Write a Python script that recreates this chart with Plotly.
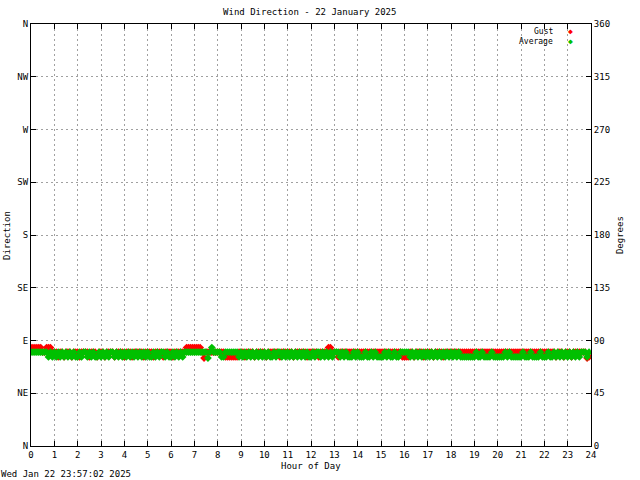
import plotly.graph_objects as go

# 5-minute readings, one row of 12 per hour (degrees)
gust = [
    [84, 84, 84, 84, 84, 84, 80, 80, 84, 84, 84, 80],
    [80, 80, 76, 80, 80, 76, 80, 80, 80, 76, 80, 80],
    [80, 76, 80, 80, 80, 80, 76, 80, 80, 80, 76, 80],
    [80, 80, 76, 80, 80, 80, 80, 76, 80, 80, 80, 80],
    [76, 80, 80, 80, 76, 80, 80, 80, 80, 80, 76, 80],
    [80, 80, 80, 76, 80, 80, 80, 80, 76, 80, 80, 80],
    [80, 76, 80, 80, 80, 80, 80, 80, 84, 84, 84, 84],
    [84, 84, 84, 84, 80, 75, 80, 80, 80, 80, 80, 80],
    [80, 80, 80, 80, 76, 76, 76, 76, 76, 76, 76, 80],
    [80, 80, 76, 80, 80, 80, 80, 76, 80, 80, 80, 80],
    [80, 76, 80, 80, 80, 80, 80, 80, 76, 80, 80, 80],
    [80, 80, 80, 76, 80, 80, 80, 80, 80, 80, 76, 80],
    [80, 80, 80, 80, 76, 80, 80, 80, 80, 84, 84, 80],
    [80, 80, 76, 80, 80, 80, 80, 80, 80, 80, 80, 80],
    [80, 80, 80, 80, 80, 80, 80, 80, 80, 80, 80, 80],
    [80, 80, 80, 80, 80, 80, 80, 80, 80, 80, 80, 76],
    [76, 76, 76, 80, 80, 76, 80, 80, 80, 80, 76, 80],
    [80, 80, 80, 76, 80, 80, 80, 80, 76, 80, 80, 80],
    [80, 80, 80, 80, 80, 80, 80, 80, 80, 80, 80, 80],
    [80, 80, 80, 80, 80, 80, 80, 80, 80, 80, 80, 80],
    [80, 80, 80, 80, 80, 80, 80, 80, 80, 80, 80, 80],
    [80, 80, 80, 80, 80, 80, 80, 80, 80, 80, 80, 80],
    [80, 80, 80, 80, 80, 80, 76, 80, 80, 80, 76, 80],
    [80, 80, 76, 80, 80, 80, 80, 80, 80, 80, 75, 76],
]

average = [
    [80, 80, 80, 80, 80, 80, 80, 80, 80, 76, 80, 76],
    [80, 76, 80, 76, 80, 76, 80, 76, 80, 76, 80, 76],
    [76, 80, 76, 80, 80, 76, 80, 76, 80, 76, 76, 80],
    [76, 80, 76, 80, 76, 80, 80, 76, 80, 76, 80, 76],
    [80, 76, 80, 76, 80, 76, 80, 76, 80, 76, 80, 76],
    [80, 76, 76, 80, 76, 80, 76, 80, 80, 76, 80, 76],
    [76, 80, 76, 80, 76, 80, 76, 80, 80, 80, 80, 80],
    [80, 80, 80, 80, 80, 80, 80, 75, 80, 84, 80, 80],
    [80, 80, 76, 76, 80, 80, 80, 80, 80, 80, 80, 76],
    [80, 76, 80, 76, 80, 76, 80, 76, 80, 76, 80, 76],
    [80, 76, 80, 76, 76, 80, 76, 80, 80, 76, 80, 76],
    [80, 76, 80, 76, 80, 76, 80, 76, 80, 76, 80, 76],
    [76, 80, 76, 80, 80, 76, 80, 76, 80, 76, 80, 76],
    [80, 80, 80, 76, 80, 76, 80, 76, 76, 76, 80, 76],
    [80, 76, 76, 76, 80, 76, 76, 80, 76, 80, 76, 76],
    [76, 76, 80, 76, 80, 76, 76, 80, 76, 76, 80, 80],
    [80, 80, 80, 76, 80, 76, 80, 76, 80, 76, 80, 76],
    [80, 76, 80, 76, 80, 76, 80, 76, 80, 76, 80, 76],
    [80, 76, 80, 76, 80, 76, 76, 76, 76, 76, 76, 76],
    [76, 80, 76, 76, 80, 76, 76, 76, 76, 80, 76, 76],
    [76, 76, 76, 76, 80, 76, 80, 76, 76, 76, 76, 76],
    [76, 80, 76, 76, 76, 80, 76, 76, 76, 76, 80, 76],
    [76, 76, 80, 76, 76, 80, 76, 80, 76, 80, 76, 80],
    [76, 80, 76, 80, 76, 80, 76, 80, 80, 80, 76, 80],
]

compass_ticks = [0, 45, 90, 135, 180, 225, 270, 315, 360]
compass_labels = ["N", "NE", "E", "SE", "S", "SW", "W", "NW", "N"]
hour_ticks = list(range(0, 25))

# flatten hour rows into time (hours) / value pairs
def series(rows):
    xs, ys = [], []
    for h, row in enumerate(rows):
        for i, v in enumerate(row):
            xs.append(h + i * 5 / 60)
            ys.append(v)
    return xs, ys

gx, gy = series(gust)
ax, ay = series(average)

font = "DejaVu Sans Mono"

fig = go.Figure()
fig.add_trace(go.Scatter(x=gx, y=gy, mode="markers", name="Gust",
                         marker=dict(symbol="diamond", size=6, color="#ff0000", line_width=0)))
fig.add_trace(go.Scatter(x=ax, y=ay, mode="markers", name="Average",
                         marker=dict(symbol="diamond", size=6, color="#00c000", line_width=0)))
# empty trace so the right-hand degree axis is drawn
fig.add_trace(go.Scatter(x=[], y=[], yaxis="y2", showlegend=False))

axis_common = dict(showline=True, linecolor="black", linewidth=1,
                   ticks="inside", ticklen=5, tickcolor="black", automargin=False,
                   zeroline=False, tickfont=dict(family=font, size=9, color="black"))

fig.update_layout(
    width=640, height=480,
    margin=dict(l=31, r=49, t=24, b=34),
    plot_bgcolor="white", paper_bgcolor="white",
    showlegend=False,
    title=dict(text="Wind Direction - 22 January 2025", x=0.484, xanchor="center",
               y=0.975, yanchor="middle", font=dict(family=font, size=9, color="black")),
    xaxis=dict(range=[0, 24], tickvals=hour_ticks, mirror="ticks",
               showgrid=True, gridcolor="#a0a0a0", griddash="2px,3px", gridwidth=1,
               **axis_common),
    yaxis=dict(range=[0, 360], tickvals=compass_ticks, ticktext=compass_labels,
               mirror="ticks", showgrid=True, gridcolor="#a0a0a0", griddash="2px,3px",
               gridwidth=1, **axis_common),
    yaxis2=dict(range=[0, 360], tickvals=compass_ticks, overlaying="y", side="right",
                showgrid=False, **axis_common),
)

def note(text, x, y, xanchor="center", angle=0, color="black", size=9):
    fig.add_annotation(text=text, xref="paper", yref="paper", x=x, y=y,
                       xanchor=xanchor, yanchor="middle", textangle=angle,
                       borderpad=0, showarrow=False,
                       font=dict(family=font, size=size, color=color))

note("Direction", -0.043, 0.5, angle=-90)
note("Degrees", 1.052, 0.5, angle=-90)
note("Hour of Day", 0.5, -0.047)
note("Wed Jan 22 23:57:02 2025", -0.055, -0.066, xanchor="left")

# legend: text right-aligned, key to the right, like the original
note("Gust", 0.934, 0.9834, xanchor="right", size=8)
note("Average", 0.934, 0.9597, xanchor="right", size=8)
note("\u25c6", 0.9625, 0.9834, color="#ff0000", size=8)
note("\u25c6", 0.9625, 0.9597, color="#00c000", size=8)

fig.write_html("out.html", config={"displayModeBar": False},
               post_script="document.body.style.margin='0';")
